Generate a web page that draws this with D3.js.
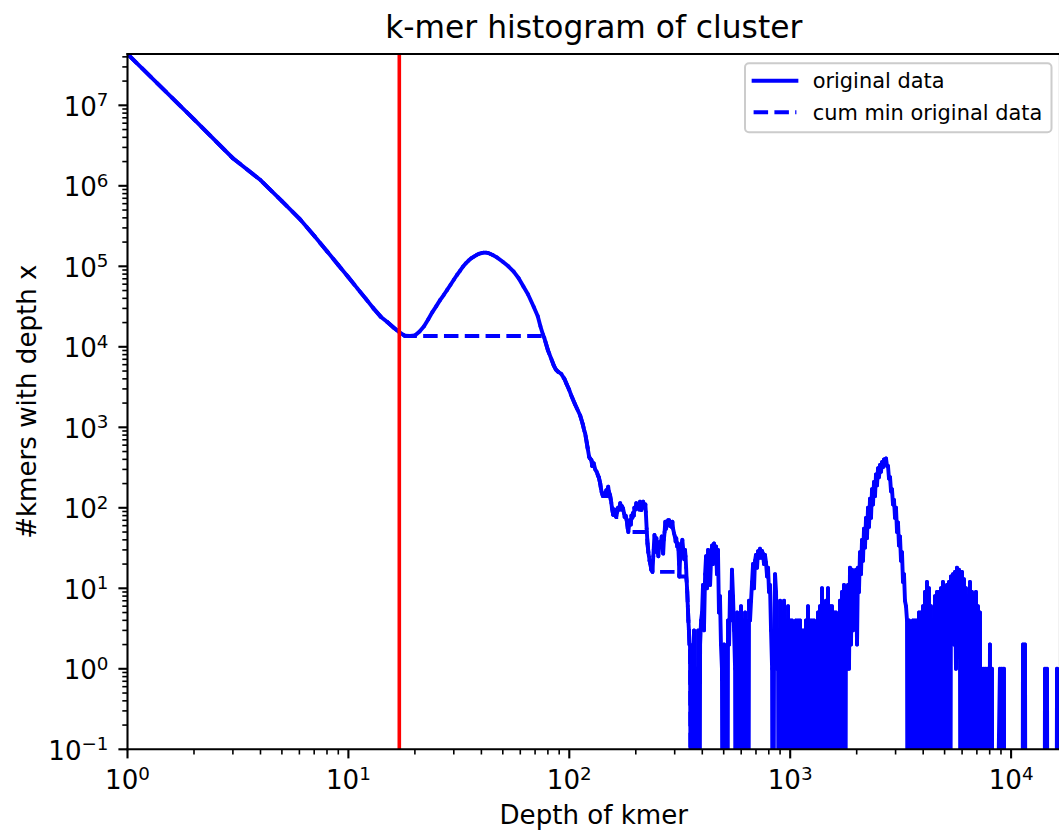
<!DOCTYPE html>
<html><head><meta charset="utf-8">
<script src="https://cdn.jsdelivr.net/npm/d3@7"></script>
<style>
body{margin:0;background:#fff}
svg{display:block}
text{font-family:"DejaVu Sans",sans-serif;fill:#000}
</style>
</head><body>
<svg id="chart" width="1059" height="830"></svg>
<script>
// ---------------- data: [depth, number of kmers] ----------------
const lowDepthSlope = [[1,4.34e7],[2,6.7e6],[3,2.2e6],[4,1.18e6],[5,6.44e5],[6,3.92e5],[7,2.39e5],[8,1.54e5],[9,1.04e5],[10,7.3e4],[11,5.28e4],[12,3.94e4],[13,3.0e4],[14,2.37e4],[15,2.03e4],[16,1.74e4],[17,1.52e4],[18,1.37e4],[19,1.36e4],[20,1.38e4],[21,1.55e4],[22,1.8e4]];
const mainPeak = [[23,2.2e4],[24,2.7e4],[25,3.2e4],[26,3.8e4],[27,4.4e4],[28,5.1e4],[29,5.9e4],[30,6.8e4],[31,7.8e4],[32,8.8e4],[33,9.9e4],[34,1.09e5],[35,1.18e5],[36,1.26e5],[37,1.32e5],[38,1.38e5],[39,1.43e5],[40,1.46e5],[41,1.48e5],[42,1.48e5],[43,1.46e5],[44,1.42e5],[45,1.38e5],[47,1.29e5],[50,1.14e5],[53,1.0e5],[56,8.6e4],[59,7.1e4],[62,5.6e4],[65,4.5e4],[69,3.15e4],[72,2.4e4],[74,1.8e4],[76,1.42e4],[77,1.3e4],[80,9.1e3],[83,7.0e3],[85,5.9e3],[87,5.2e3],[89,4.9e3],[92,4.6e3],[95,4.0e3],[97,3.5e3],[100,2.9e3],[102,2.5e3],[106,1.95e3],[109,1.65e3],[112,1.4e3]];
const shoulderNoise = [[115,1100],[117,900],[118,840],[120,640],[121,560],[123,430],[124,412],[126,390],[127,330],[129,357],[131,300],[133,281],[135,250],[136,240],[138,201],[139,175],[140,158],[142,140],[143,150],[145,144],[147,165],[148,150],[150,183],[151,160],[152,150],[153,144],[155,115],[156,100],[158,82],[160,95],[161,90],[163,77],[165,90],[166,100],[168,95],[170,114],[172,95],[173,105],[175,99],[177,85],[178,77],[180,80],[182,70],[184,55],[185,50],[187,65],[188,70],[190,62],[191,80],[193,75],[194,86],[196,80],[197,100],[199,95],[201,114],[203,100],[205,105],[207,95],[209,119],[211,105],[212,94],[214,110],[216,119],[218,105],[219,100],[221,110],[222,89],[224,55],[226,36],[228,28],[231,22],[233,20],[235,17],[236,22],[238,16],[240,25],[241,30],[243,46],[245,40],[246,35],[248,42],[249,28],[251,30],[253,25],[255,32],[257,38],[259,33],[262,44],[264,35],[266,27],[268,40],[270,50],[272,67],[274,55],[277,62],[280,70],[283,70],[285,60],[288,64],[290,58],[293,67],[295,55],[298,48],[300,45],[303,38],[305,42],[308,33],[310,36],[312,30],[314,20],[315,14],[317,22],[320,27],[322,35],[325,40],[328,30],[331,23],[334,30],[336,25],[338,18],[340,12],[342,9],[344,6],[346,4],[348,3],[350,2],[352,2]];
const tailNoise1 = [[359,0],[367,3],[371,0],[375,1],[379,0],[383,3],[387,0],[391,2],[395,4],[399,5],[403,11],[407,3],[412,15],[416,25],[420,10],[425,30],[429,18],[434,11],[438,22],[443,34],[447,20],[452,36],[457,28],[462,33],[466,15],[471,30],[476,5],[481,8],[486,2],[491,1],[497,0],[502,2],[507,0],[512,1],[518,0],[523,4],[529,2],[534,9],[540,4],[545,17],[551,8],[557,3],[563,1],[569,0],[575,5],[581,0],[587,4],[593,0],[599,6],[605,0],[612,4],[618,0],[625,5],[631,0],[638,3],[644,0],[651,7],[658,4],[665,7],[672,12],[679,20],[686,10],[693,22],[700,26],[708,18],[715,29],[722,24],[730,31],[738,24],[746,29],[753,27],[761,20],[769,26],[777,21],[786,14],[794,18],[802,9],[810,11],[819,3],[828,1],[836,0],[845,2],[854,15],[863,9],[872,1],[881,3]];
const tailFill1 = [[890,0],[900,7],[909,0],[919,5],[928,0],[938,7],[948,0],[958,4],[968,0],[978,6],[988,0],[998,4],[1009,0],[1019,4],[1030,0],[1040,3],[1052,0],[1062,4],[1074,0],[1085,4],[1096,0],[1108,4],[1120,0],[1131,3],[1143,0],[1155,3],[1167,0],[1179,4],[1191,0],[1204,6],[1217,0],[1229,4],[1242,0],[1255,4],[1268,0],[1282,4],[1295,0],[1309,3],[1323,0],[1336,5],[1350,0],[1364,6],[1378,0],[1393,10],[1408,0],[1422,6],[1437,0],[1452,7],[1467,0],[1483,10],[1499,0],[1514,6],[1530,0],[1546,6],[1562,0],[1579,5],[1596,0],[1612,5],[1629,0],[1646,4],[1663,0],[1680,7],[1699,0],[1716,9],[1734,0],[1752,11],[1770,0],[1789,8]];
const repeatPeak = [[1808,1],[1827,11],[1846,1],[1865,18],[1885,2],[1905,17],[1925,3],[1945,16],[1966,4],[1986,17],[2007,2],[2027,18],[2048,9],[2070,28],[2092,15],[2114,40],[2136,22],[2158,55],[2181,32],[2204,75],[2227,42],[2250,100],[2274,58],[2298,130],[2322,75],[2346,170],[2371,110],[2396,210],[2421,140],[2446,260],[2472,190],[2498,310],[2524,240],[2550,340],[2577,280],[2604,370],[2631,320],[2659,400],[2687,350],[2715,410],[2743,330],[2772,330],[2801,230],[2831,240],[2861,160],[2890,170],[2920,110],[2951,125],[2982,75],[3013,100],[3045,50],[3076,66],[3108,34],[3141,44],[3174,22],[3207,28],[3241,12],[3275,15],[3309,7],[3344,6],[3379,4]];
const tailFill2 = [[3414,0],[3450,4],[3486,0],[3522,3],[3559,0],[3596,4],[3634,0],[3672,4],[3711,0],[3750,4],[3789,0],[3829,5],[3869,0],[3909,5],[3950,0],[3991,6],[4033,0],[4075,9],[4118,0],[4161,12],[4205,0],[4249,10],[4293,0],[4338,6],[4384,0],[4430,4],[4476,0],[4523,8],[4570,0],[4618,9],[4667,0],[4716,9],[4765,0],[4815,10],[4865,0],[4916,12],[4968,0],[5020,10],[5072,0],[5125,11],[5179,0],[5233,12],[5288,0],[5343,14],[5399,4],[5456,15],[5513,2],[5571,16],[5629,1],[5688,18],[5747,3],[5807,17],[5868,2],[5930,0],[5992,16],[6055,0],[6118,13],[6182,0],[6247,10],[6312,0],[6378,8],[6445,0],[6513,12],[6581,0],[6650,9],[6720,0],[6790,8],[6861,0],[6933,9],[7006,0],[7079,6],[7153,0],[7228,5],[7304,0],[7380,1],[7457,0],[7535,1],[7614,0],[7694,1],[7775,0],[7856,1],[7938,0],[8021,2],[8105,0],[8190,1],[8276,0]];
const farTail = [[8902,1],[8996,0],[9090,1],[9185,0],[9281,1],[9378,0],[11203,0],[11321,2],[11439,0],[11559,2],[11680,0],[14093,0],[14241,1],[14390,0],[14541,1],[14692,0],[15969,0],[16137,1],[16306,0],[16650,1]];

const cutoffDepth = 17;            // red vertical line
const xTickExps = [0,1,2,3,4];
const yTickExps = [-1,0,1,2,3,4,5,6,7];
const yMin = 0.1;
const titleText = "k-mer histogram of cluster";
const xLabelText = "Depth of kmer";
const yLabelText = "#kmers with depth x";
const legendLabels = ["original data","cum min original data"];

// ---------------- build series ----------------
const original = [].concat(lowDepthSlope, mainPeak, shoulderNoise, tailNoise1, tailFill1, repeatPeak, tailFill2, farTail);
let runMin = Infinity;
const cumMin = original.map(([d,c]) => [d, (runMin = Math.min(runMin, c))]);

// ---------------- layout ----------------
const L = 127.5, R = 1060, T = 54, B = 749.3;
const DASH = [14.5, 6.3];
const svg = d3.select('#chart');
svg.append('rect').attr('width',1059).attr('height',830).attr('fill','#fff');

const x = d3.scaleLog().domain(d3.extent(original, d => d[0])).range([L, R]);
const y = d3.scaleLog().domain([yMin, d3.max(original, d => d[1])]).range([B, T]);
const clipY = v => y(v > 0 ? v : 1e-6);   // non-positive values fall off the bottom (log clip)

svg.append('defs').append('clipPath').attr('id','plotclip')
  .append('rect').attr('x',L).attr('y',T).attr('width',R-L).attr('height',B-T);

const plot = svg.append('g').attr('clip-path','url(#plotclip)');
const line = d3.line().x(d => x(d[0])).y(d => clipY(d[1]));

// solid series drawn segment by segment (round caps = round joins)
plot.append('g').selectAll('line').data(d3.pairs(original)).join('line')
  .attr('x1', p => x(p[0][0])).attr('y1', p => clipY(p[0][1]))
  .attr('x2', p => x(p[1][0])).attr('y2', p => clipY(p[1][1]))
  .attr('stroke','#0000ff').attr('stroke-width',3.9).attr('stroke-linecap','round');

// dashed running minimum; dash phase aligned so a dash starts near depth 21.8 on the plateau
const dashPath = plot.append('path').datum(cumMin).attr('d', line)
  .attr('fill','none').attr('stroke','#0000ff').attr('stroke-width',3.9)
  .attr('stroke-linejoin','round').attr('stroke-linecap','butt')
  .attr('stroke-dasharray', DASH.join(','));
{
  const plateauStart = cumMin.findIndex(p => p[0] === 19);
  const tmp = svg.append('path').attr('d', line(cumMin.slice(0, plateauStart + 1))).attr('fill','none');
  const s0 = tmp.node().getTotalLength() + (x(21.8) - x(19));
  tmp.remove();
  const period = DASH[0] + DASH[1];
  dashPath.attr('stroke-dashoffset', period - (s0 % period));
}
plot.append('line').attr('x1',x(cutoffDepth)).attr('x2',x(cutoffDepth)).attr('y1',T).attr('y2',B)
  .attr('stroke','#ff0000').attr('stroke-width',3.6);

// ---------------- axes ----------------
const ax = svg.append('g');
function supLabel(sel, e){
  sel.append('tspan').text('10');
  sel.append('tspan').attr('dy',-9.6).attr('font-size',18.3).text(e < 0 ? '\u2212' + (-e) : String(e));
}
const xd1 = x.domain()[1];
xTickExps.forEach(e => {
  const v = Math.pow(10, e);
  const px = x(v);
  ax.append('line').attr('x1',px).attr('x2',px).attr('y1',B).attr('y2',B+9.1).attr('stroke','#000').attr('stroke-width',2.1);
  const t = ax.append('text').attr('x',px).attr('y',B+40).attr('font-size',26.1).attr('text-anchor','middle');
  supLabel(t, e);
  for (let m = 2; m <= 9; m++) {
    const mv = m * v;
    if (mv > xd1) break;
    const mx = x(mv);
    ax.append('line').attr('x1',mx).attr('x2',mx).attr('y1',B).attr('y2',B+5.2).attr('stroke','#000').attr('stroke-width',1.6);
  }
});
const yd1 = y.domain()[1];
yTickExps.forEach(e => {
  const v = Math.pow(10, e);
  const py = y(v);
  ax.append('line').attr('x1',L-9.1).attr('x2',L).attr('y1',py).attr('y2',py).attr('stroke','#000').attr('stroke-width',2.1);
  const t = ax.append('text').attr('x',L-19).attr('y',py+10.5).attr('font-size',26.1).attr('text-anchor','end');
  supLabel(t, e);
  for (let m = 2; m <= 9; m++) {
    const mv = m * v;
    if (mv > yd1) break;
    const my = y(mv);
    ax.append('line').attr('x1',L-5.2).attr('x2',L).attr('y1',my).attr('y2',my).attr('stroke','#000').attr('stroke-width',1.6);
  }
});
[[L,T,L,B],[L,B,R,B],[L,T,R,T],[R,T,R,B]].forEach(s => {
  ax.append('line').attr('x1',s[0]).attr('y1',s[1]).attr('x2',s[2]).attr('y2',s[3])
    .attr('stroke','#000').attr('stroke-width',2.1).attr('stroke-linecap','square');
});

// labels
svg.append('text').attr('x',(L+R)/2).attr('y',38).attr('text-anchor','middle').attr('font-size',31.3).text(titleText);
svg.append('text').attr('x',(L+R)/2).attr('y',824).attr('text-anchor','middle').attr('font-size',26.1).text(xLabelText);
svg.append('text').attr('transform',`translate(36,${(T+B)/2}) rotate(-90)`).attr('text-anchor','middle').attr('font-size',26.1).text(yLabelText);

// legend
const lg = svg.append('g');
lg.append('rect').attr('x',745).attr('y',63.3).attr('width',306.5).attr('height',69).attr('rx',4)
  .attr('fill','#fff').attr('fill-opacity',0.8).attr('stroke','#cccccc').attr('stroke-width',2);
lg.append('line').attr('x1',753.6).attr('x2',796.4).attr('y1',80.7).attr('y2',80.7)
  .attr('stroke','#0000ff').attr('stroke-width',3.9).attr('stroke-linecap','square');
lg.append('line').attr('x1',753.6).attr('x2',796.4).attr('y1',112.3).attr('y2',112.3)
  .attr('stroke','#0000ff').attr('stroke-width',3.9).attr('stroke-dasharray', DASH.join(','));
lg.append('text').attr('x',812.7).attr('y',88.3).attr('font-size',20.9).text(legendLabels[0]);
lg.append('text').attr('x',812.7).attr('y',119.9).attr('font-size',20.9).text(legendLabels[1]);
</script>
</body></html>
